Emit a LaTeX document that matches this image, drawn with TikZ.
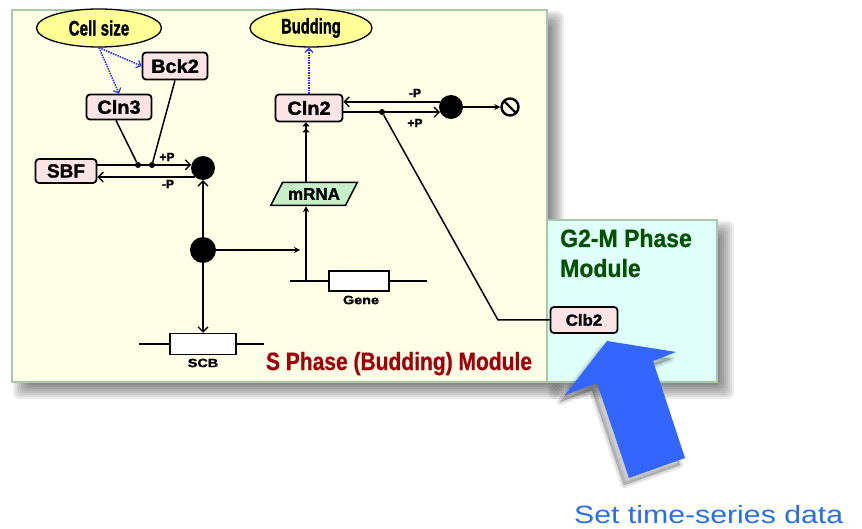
\documentclass[tikz,border=0pt]{standalone}
\usepackage{fontspec}
\setmainfont{Liberation Sans}
\newfontfamily\heavyfont[FakeBold=1.6]{Liberation Sans Bold}
\newfontfamily\titlefont[FakeBold=0.8]{Liberation Sans Bold}
\usepackage{graphicx}
\usetikzlibrary{arrows.meta,shapes.geometric,calc}

\definecolor{panelY}{RGB}{255,255,232}
\definecolor{panelB}{RGB}{222,255,250}
\definecolor{panelEdge}{RGB}{168,200,168}
\definecolor{protFill}{RGB}{252,228,228}
\definecolor{sigFill}{RGB}{255,255,150}
\definecolor{rnaFill}{RGB}{200,240,200}
\definecolor{sRed}{RGB}{160,0,10}
\definecolor{gGreen}{RGB}{0,80,0}
\definecolor{cueBlue}{RGB}{51,102,255}
\definecolor{noteBlue}{RGB}{40,110,240}
\definecolor{dotBlue}{RGB}{40,40,255}

\newcommand{\fsz}[1]{\fontsize{#1}{#1}\selectfont}
\newcommand{\wide}[3]{\scalebox{#1}[1]{\fsz{#2}\heavyfont #3}}
\newcommand{\ttl}[3]{\scalebox{#1}[1]{\fsz{#2}\titlefont #3}}
% soft drop shadow of a panel given by its corners
\newcommand{\softshadow}[4]{%
  \foreach \e in {-8,-6,...,8}{%
    \fill[black,opacity=0.07,rounded corners=6pt]
      ({#1+9-\e},{#2+9-\e}) rectangle ({#3+9+\e},{#4+9+\e});}}

\begin{document}
\begin{tikzpicture}[x=1pt,y=-1pt,
  prot/.style={draw, line width=1.8pt, rounded corners=3.5pt, fill=protFill, inner sep=0pt},
  signal/.style={ellipse, draw, line width=1.3pt, fill=sigFill, inner sep=0pt},
  hub/.style={circle, fill=black, inner sep=0pt, minimum size=#1},
  joint/.style={circle, fill=black, inner sep=0pt, minimum size=6pt},
  link/.style={line width=1.5pt},
  arr/.style={link, -{Straight Barb[length=5pt,width=10pt,line width=1.3pt]}},
  arrs/.style={link, -{Stealth[length=6pt,width=6pt]}},
  cue/.style={draw=dotBlue, line width=1.5pt, densely dotted,
    -{Straight Barb[length=4pt,width=8pt,line width=1.2pt]}},
  gene/.style={draw, line width=1.5pt, fill=white, inner sep=0pt},
  plab/.style={font=\fsz{12}\heavyfont, inner sep=0pt},
  panel/.style={draw=panelEdge, line width=1.2pt},
]
\useasboundingbox (0,0) rectangle (862,529);

% panels with their shadows
\softshadow{12}{10}{547}{382}
\softshadow{547}{220}{717}{382}
\fill[panel, fill=panelY] (12,10) rectangle (547,382);
\fill[panel, fill=panelB] (547,220) rectangle (717,382);
\draw[panel] (12,10) rectangle (547,382);
\draw[panel] (547,220) rectangle (717,382);

% module titles
\node[text=sRed, inner sep=0pt, anchor=base] (stitle) at (399,370)
  {\ttl{0.84}{25}{S Phase (Budding) Module}};
\node[text=gGreen, inner sep=0pt, anchor=base west] (gtitle1) at (560,247)
  {\ttl{0.92}{25}{G2-M Phase}};
\node[text=gGreen, inner sep=0pt, anchor=base west] (gtitle2) at (560,277)
  {\ttl{0.92}{25}{Module}};

% signals
\node[signal, minimum width=125pt, minimum height=38pt] (cellsize) at (99,28)
  {\wide{0.72}{21}{Cell size}};
\node[signal, minimum width=122pt, minimum height=38pt] (budding) at (311,28)
  {\wide{0.7}{21}{Budding}};

% proteins
\node[prot, minimum width=65pt, minimum height=27pt] (bck2) at (175,66)
  {\wide{1.05}{19}{Bck2}};
\node[prot, minimum width=65pt, minimum height=25pt] (cln3) at (119,107)
  {\wide{1.05}{19}{Cln3}};
\node[prot, minimum width=61pt, minimum height=24pt] (sbf) at (66,171)
  {\wide{1.0}{19}{SBF}};
\node[prot, minimum width=67pt, minimum height=27pt] (cln2) at (309,108)
  {\wide{1.05}{19}{Cln2}};
\node[prot, minimum width=67pt, minimum height=26pt] (clb2) at (584,320)
  {\wide{1.05}{16}{Clb2}};

% mRNA
\node[trapezium, trapezium left angle=50, trapezium right angle=130,
  trapezium stretches=true, draw, line width=1.5pt, fill=rnaFill,
  minimum width=87pt, minimum height=23pt, inner sep=0pt] (mrna) at (314,194)
  {\wide{1.0}{17}{mRNA}};

% reaction hubs and junctions
\node[hub=24pt] (c1) at (203,168) {};
\node[hub=26pt] (c2) at (203,250) {};
\node[hub=24pt] (c3) at (451,107) {};
\node[joint] (d1) at (138,165) {};
\node[joint] (d2) at (152,165) {};
\node[joint] (d3) at (382,112) {};
\node[circle, draw, line width=2.4pt, minimum size=17pt, inner sep=0pt,
  path picture={\draw[line width=2.4pt] (path picture bounding box.north west)
    -- (path picture bounding box.south east);}] (sink) at (510,107) {};

% genes
\coordinate (g0) at (290,281);
\coordinate (g1) at (427,281);
\coordinate (tss) at (306,281);
\draw[link] (g0) -- (g1);
\node[gene, minimum width=60pt, minimum height=20pt] (genebox) at (359,281) {};
\node[plab] (genelab) at (361,300) {\scalebox{1.2}[1]{Gene}};
\coordinate (s0) at (139,344);
\coordinate (s1) at (264,344);
\draw[link] (s0) -- (s1);
\node[gene, minimum width=66pt, minimum height=21pt] (scb) at (203,344) {};
\node[plab] (scblab) at (203,363) {\scalebox{1.2}[1]{SCB}};

% signal cues
\draw[cue] (cellsize.south) -- (bck2.west);
\draw[cue] (cellsize.south) -- (cln3.north);
\draw[cue] (cln2.north) -- (cln2.north |- budding.south);

% SBF phosphorylation cycle
\draw[arr] (sbf.east |- c1.165) -- (c1.165);
\draw[arr] (c1.228) -- (sbf.east |- c1.228);
\draw[link] ([xshift=-3pt]cln3.south) -- (d1);
\draw[link] (bck2.south) -- (d2);
\node[plab] (pp1) at (167,157) {+P};
\node[plab] (pm1) at (168,184) {-P};

% SBF activation of transcription
\draw[arr] (c2.north) -- (c1.south);
\draw[arr] (c2.south) -- (scb.north);
\coordinate (tx) at (300,250);
\draw[arrs] (c2.east) -- (tx);
\draw[arrs] (tss) -- (tss |- mrna.south);
\draw[link, -{Triangle[length=4pt,width=7pt,sep=2pt]Triangle[length=4pt,width=7pt]}]
  (tss |- mrna.north) -- (tss |- cln2.south);

% Cln2 cycle and degradation
\draw[arr] (c3.155) -- (cln2.east |- c3.155);
\draw[arr] (cln2.east |- c3.205) -- (c3.205);
\node[plab] (pm2) at (415,93) {-P};
\node[plab] (pp2) at (415,123) {+P};
\draw[arrs] (c3.east) -- (sink.west);

% link to the G2-M module
\coordinate (bend) at (498,320);
\draw[link] (d3) -- (bend) -- (clb2.west);

% input arrow with its shadow
\foreach \w in {1,4,7}{
  \draw[black, opacity=0.07, line width=\w pt, line join=round, fill opacity=0.07, fill=black]
    (602,348) -- (671,359) -- (648,368) -- (680,465) -- (624,485) -- (592,390) -- (560,402) -- cycle;}
\fill[cueBlue] (607,341) -- (676,352) -- (653,361) -- (685,458) -- (629,478)
  -- (597,383) -- (565,395) -- cycle;
\node[text=noteBlue, inner sep=0pt, anchor=base west] (note) at (574,523)
  {\scalebox{1.21}[1]{\fsz{25}Set time-series data}};
\end{tikzpicture}
\end{document}
